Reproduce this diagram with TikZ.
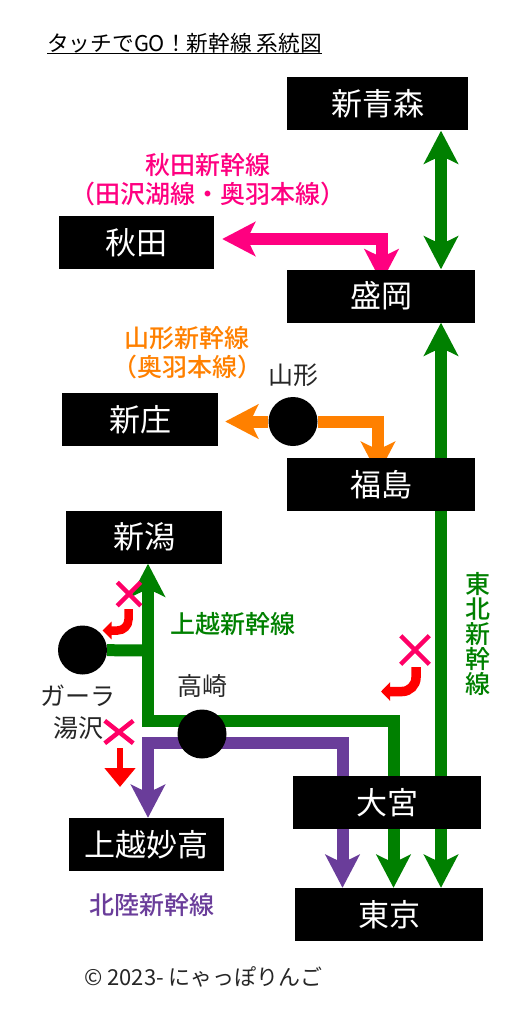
\documentclass[tikz,border=0pt]{standalone}
\usepackage{fontspec}
\setmainfont{Noto Sans CJK JP}[BoldFont={Noto Sans CJK JP Medium}]
\usetikzlibrary{arrows.meta,backgrounds,shapes.misc}
\definecolor{lgreen}{HTML}{008000}
\definecolor{lpink}{HTML}{FF0080}
\definecolor{lorange}{HTML}{FF8000}
\definecolor{lpurple}{HTML}{6A3D9A}
\definecolor{xpink}{HTML}{FF0066}
\tikzset{
  rtip/.tip={Stealth[length=33pt,width=34pt,inset=8pt]},
  stationbox/.style={fill=black,text=white,inner sep=0pt,minimum height=53pt,font=\fontsize{31}{32}\selectfont},
  dot/.style={circle,fill=black,minimum size=49pt,inner sep=0pt},
  rail/.style={line width=12pt,miter limit=10},
  greenline/.style={rail,draw=lgreen},
  pinkline/.style={rail,draw=lpink},
  orangeline/.style={rail,draw=lorange},
  purpleline/.style={rail,draw=lpurple},
  forbid/.style={cross out,draw=xpink,line width=4.5pt,inner sep=0pt},
  redcurve/.style={draw=red,line width=8.5pt,rounded corners=11pt},
  linelabel/.style={font=\fontsize{25}{29}\selectfont\bfseries,align=center,inner sep=0pt},
  placelabel/.style={font=\fontsize{25}{32}\selectfont,align=center,inner sep=0pt,text=black!85},
  plain/.style={inner sep=0pt}
}
\begin{document}
\begin{tikzpicture}[x=1pt,y=-1pt]
\useasboundingbox (0,0) rectangle (529,1024);
% stations
\node[stationbox,minimum width=181pt] (aomori) at (377.5,104) {新青森};
\node[stationbox,minimum width=155pt] (akita) at (136.5,242.5) {秋田};
\node[stationbox,minimum width=188pt] (morioka) at (381,296) {盛岡};
\node[stationbox,minimum width=156pt] (shinjo) at (140,419.5) {新庄};
\node[stationbox,minimum width=188pt] (fukushima) at (381,484.5) {福島};
\node[stationbox,minimum width=156pt] (niigata) at (144,537) {新潟};
\node[stationbox,minimum width=155pt] (joetsu) at (146.5,844.5) {上越妙高};
\node[stationbox,minimum width=188pt] (omiya) at (387,802.5) {大宮};
\node[stationbox,minimum width=188pt] (tokyo) at (389,914.5) {東京};
% intermediate stations
\node[dot] (yamagata) at (293,421.5) {};
\node[dot] (gala) at (82.5,650) {};
\node[dot] (takasaki) at (202,734) {};
% routing coordinates
\coordinate (tohokuX) at (441,0);
\coordinate (pinkC) at (381.5,239);
\coordinate (orangeC) at (378,421.5);
\coordinate (joetsuC) at (148,720.5);
\coordinate (omiyaC) at (393.5,720.5);
\coordinate (hokL) at (148,743);
\coordinate (hokR) at (342.5,743);
\coordinate (galaJ) at (148,650.5);
% labels
\node[plain,font=\fontsize{21.7}{24}\selectfont,anchor=west] (title) at (47,43) {タッチでGO！新幹線 系統図};
\node[linelabel,text=lpink] (akitaL) at (207.5,180) {秋田新幹線\\（田沢湖線・奥羽本線）};
\node[linelabel,text=lorange] (yamagataL) at (187,353) {山形新幹線\\（奥羽本線）};
\node[linelabel,text=lgreen] (joetsuL) at (232.5,624) {上越新幹線};
\node[linelabel,text=lgreen,font=\fontsize{25}{25}\selectfont\bfseries] (tohokuL) at (478,633.5) {東\\北\\新\\幹\\線};
\node[linelabel,text=lpurple] (hokL2) at (151.5,905) {北陸新幹線};
\node[placelabel] (yamagataN) at (293,375) {山形};
\node[placelabel] (takasakiN) at (202.5,686) {高崎};
\node[placelabel] (galaN) at (78,712) {ガーラ\\湯沢};
\node[plain,font=\fontsize{22}{24}\selectfont,anchor=west,text=black!85] (copy) at (84,977) {© 2023- にゃっぽりんご};
\draw[line width=1pt] (title.west |- 0,53.5) -- (title.east |- 0,53.5);
% forbidden marks
\node[forbid,minimum width=19pt,minimum height=19pt] (x1) at (129,594) {};
\node[forbid,minimum width=24pt,minimum height=24pt] (x2) at (415,650) {};
\node[forbid,minimum width=24pt,minimum height=18pt] (x3) at (119,732) {};
\coordinate (r1a) at (128.5,609);
\coordinate (r1b) at (102.5,630.5);
\coordinate (r2a) at (416,667);
\coordinate (r2b) at (381,691.5);
\coordinate (r3a) at (120,748);
\coordinate (r3b) at (120,787);
\draw[redcurve,-{Triangle[length=9pt,width=17pt]}] (r1a) |- (r1b);
\draw[redcurve,line width=9.5pt,rounded corners=14pt,-{Triangle[length=9pt,width=18pt]}] (r2a) |- (r2b);
\draw[draw=red,line width=6pt,-{Triangle[length=19pt,width=30pt]}] (r3a) -- (r3b);
\begin{scope}[on background layer]
  \draw[greenline,rtip-rtip] (aomori.south -| tohokuX) -- (morioka.north -| tohokuX);
  \draw[greenline,rtip-rtip] (tokyo.north -| tohokuX) -- (morioka.south -| tohokuX);
  \draw[greenline,rtip-rtip] (tokyo.north -| omiyaC) -- (omiyaC) -- (joetsuC) -- (niigata.south -| joetsuC);
  \draw[greenline] (gala) -- (galaJ);
  \draw[pinkline,rtip-rtip] ([yshift=-13pt]morioka.north -| pinkC) -- (pinkC) -- ([xshift=8pt]akita.east |- pinkC);
  \draw[orangeline,-rtip] (yamagata) -- (orangeC) -- ([yshift=-17pt]fukushima.north -| orangeC);
  \draw[orangeline,-rtip] (yamagata) -- ([xshift=7pt]shinjo.east |- yamagata);
  \draw[purpleline,-rtip] (takasaki |- hokL) -- (hokL) -- (joetsu.north -| hokL);
  \draw[purpleline,-rtip] (takasaki |- hokR) -- (hokR) -- (tokyo.north -| hokR);
\end{scope}
\end{tikzpicture}
\end{document}
